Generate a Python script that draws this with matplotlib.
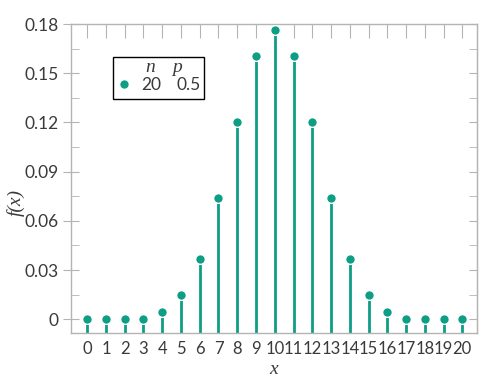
import matplotlib
matplotlib.use("Agg")
import matplotlib.pyplot as plt
from matplotlib.ticker import MultipleLocator, FixedLocator
from matplotlib.patches import Rectangle

x_vals = list(range(0, 21))
f_vals = [0.000001, 0.000019, 0.00018, 0.0003, 0.0046, 0.0148, 0.0370, 0.0739,
          0.1201, 0.1602, 0.1762, 0.1602, 0.1201, 0.0739, 0.0370, 0.0148,
          0.0046, 0.0003, 0.00018, 0.000019, 0.000001]
n_val = "20"
p_val = "0.5"
y_ticks = [0, 0.03, 0.06, 0.09, 0.12, 0.15, 0.18]
y_ticklabels = ["0", "0.03", "0.06", "0.09", "0.12", "0.15", "0.18"]

teal = "#0e9e86"
gray = "#b4b4b4"
txtc = "#3a3a3a"
sans = ["Lato", "DejaVu Sans"]
serif = ["Liberation Serif", "DejaVu Serif"]
W, H = 488, 384

fig = plt.figure(figsize=(W/100, H/100), dpi=100)
L, R, T, B = 71.3, 476.7, 24.0, 332.7
ax = fig.add_axes([L/W, 1-B/H, (R-L)/W, (B-T)/H])
ylo, yhi = -0.0082, 0.18
ax.set_xlim(-0.85, 20.77)
ax.set_ylim(ylo, yhi)

ax.vlines(x_vals, ylo, f_vals, color=teal, lw=2.0, zorder=2)
ax.plot(x_vals, f_vals, 'o', color=teal, ms=7, mec="white", mew=1.0, zorder=3, clip_on=False)

for s in ax.spines.values():
    s.set_color(gray)
    s.set_linewidth(1.0)

ax.yaxis.set_major_locator(FixedLocator(y_ticks))
ax.set_yticklabels(y_ticklabels, fontsize=12.5, family=sans, color=txtc)
ax.yaxis.set_minor_locator(MultipleLocator(0.015))
ax.xaxis.set_major_locator(FixedLocator(x_vals))
ax.set_xticklabels([str(v) for v in x_vals], fontsize=12, family=sans, color=txtc)

ax.tick_params(axis='y', which='major', direction='inout', length=12, color=gray, left=True, right=False, pad=3)
ax.tick_params(axis='y', which='minor', direction='in', length=6, color=gray, left=True, right=False)
ax.tick_params(axis='x', which='major', direction='in', length=10, color=gray, bottom=False, top=True, labeltop=False, pad=6)
ax.tick_params(axis='x', which='minor', bottom=False, top=False)

sec = ax.secondary_yaxis('right')
sec.yaxis.set_major_locator(FixedLocator(y_ticks))
sec.yaxis.set_minor_locator(MultipleLocator(0.015))
sec.tick_params(axis='y', which='both', direction='in', length=6, color=gray, labelright=False)
sec.spines['right'].set_color(gray)

ax.set_xlabel("x", fontsize=14, family=serif, style='italic', color=txtc)
ax.set_ylabel("f(x)", fontsize=14, family=serif, style='italic', color=txtc)
ax.xaxis.set_label_coords((274 - L) / (R - L), (B - 361) / (B - T))
ax.yaxis.set_label_coords((25 - L) / (R - L), (B - 202) / (B - T))

# legend box
def fx(px):
    return px / W
def fy(py):
    return 1 - py / H
fig.patches.append(Rectangle((fx(112.7), fy(99)), fx(204) - fx(112.7), fy(57) - fy(99),
                             transform=fig.transFigure, fill=False, ec="black", lw=1.0, zorder=5))
fig.text(fx(150), fy(67), "n", fontsize=14, family=serif, style='italic', ha='center', va='center', color=txtc)
fig.text(fx(177), fy(67), "p", fontsize=14, family=serif, style='italic', ha='center', va='center', color=txtc)
fig.lines.append(plt.Line2D([fx(123.5)], [fy(84)], marker='o', color=teal, ms=7, mec='white', mew=1.0,
                            transform=fig.transFigure))
fig.text(fx(151), fy(84.5), n_val, fontsize=12.5, family=sans, ha='center', va='center', color=txtc)
fig.text(fx(189), fy(84.5), p_val, fontsize=12.5, family=sans, ha='center', va='center', color=txtc)

fig.savefig("out.png", dpi=100)
